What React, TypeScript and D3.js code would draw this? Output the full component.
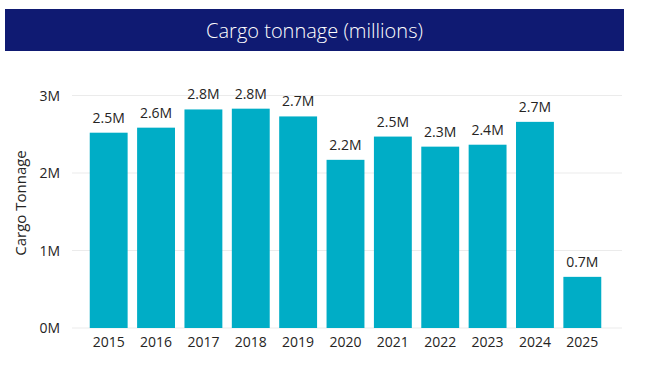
import React from "react"
import * as d3 from "d3"

// values (millions of tonnes)
const years = ["2015", "2016", "2017", "2018", "2019", "2020", "2021", "2022", "2023", "2024", "2025"]
const tonnage = [2.52, 2.585, 2.82, 2.83, 2.73, 2.17, 2.47, 2.34, 2.365, 2.66, 0.66]
const yTicks = [0, 1, 2, 3]

const W = 655
const H = 370
const FONT = "'Segoe UI', 'Open Sans', sans-serif"

export default function App() {
  const x = d3
    .scaleBand<string>()
    .domain(years)
    .range([85, 606])
    .paddingInner(0.2)
    .paddingOuter(0.1)

  const y = d3.scaleLinear().domain([0, 3]).range([328, 95.5])

  const fmt = (v: number) => d3.format(".1f")(v) + "M"

  return (
    <svg
      width={W}
      height={H}
      style={{ position: "absolute", left: 0, top: 0, background: "#fff" }}
      fontFamily={FONT}
    >
      <rect x={5} y={9} width={619} height={42} fill="#0F1A72" />
      <text
        x={314.5}
        y={38}
        textAnchor="middle"
        fill="#fff"
        fontSize={20}
        fontWeight={300}
      >
        Cargo tonnage (millions)
      </text>

      {yTicks.map(t => (
        <g key={t}>
          <line x1={72} x2={622} y1={y(t)} y2={y(t)} stroke="#EBEBEB" strokeWidth={1} />
          <text x={60} y={y(t) + 5} textAnchor="end" fontSize={14} fill="#252423">
            {t + "M"}
          </text>
        </g>
      ))}

      <text
        transform={`translate(26,203) rotate(-90)`}
        textAnchor="middle"
        fontSize={15}
        fill="#252423"
      >
        Cargo Tonnage
      </text>

      {years.map((yr, i) => (
        <g key={yr}>
          <rect
            x={x(yr)}
            y={y(tonnage[i])}
            width={x.bandwidth()}
            height={y(0) - y(tonnage[i])}
            fill="#00ADC6"
          />
          <text
            x={(x(yr) as number) + x.bandwidth() / 2}
            y={y(tonnage[i]) - 10}
            textAnchor="middle"
            fontSize={14}
            fill="#252423"
          >
            {fmt(tonnage[i])}
          </text>
          <text
            x={(x(yr) as number) + x.bandwidth() / 2}
            y={347}
            textAnchor="middle"
            fontSize={14}
            fill="#252423"
          >
            {yr}
          </text>
        </g>
      ))}
    </svg>
  )
}
